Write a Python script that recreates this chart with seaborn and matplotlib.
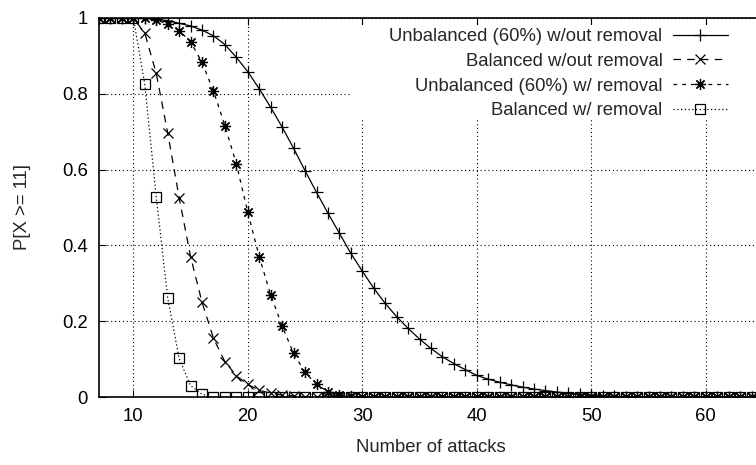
import matplotlib
matplotlib.use("Agg")
import numpy as np
import pandas as pd
import seaborn as sns
from matplotlib import pyplot
from matplotlib.patches import Rectangle

# number of attacks (x axis)
attacks = list(range(7, 65))

# one value per number of attacks (7..64)
unbal_no_rm = [1, 1, 1, 1, 0.999, 0.997, 0.993, 0.986, 0.979, 0.968,
               0.953, 0.930, 0.896, 0.858, 0.813, 0.764, 0.712, 0.656, 0.597, 0.540,
               0.485, 0.432, 0.379, 0.332, 0.287, 0.247, 0.212, 0.181, 0.153, 0.128,
               0.106, 0.088, 0.072, 0.057, 0.047, 0.039, 0.032, 0.026, 0.021, 0.017,
               0.013, 0.010, 0.008, 0.005, 0.003, 0.002, 0.001, 0.001, 0, 0,
               0, 0, 0, 0, 0, 0, 0, 0]
bal_no_rm = [1, 1, 1, 1, 0.960, 0.854, 0.697, 0.526, 0.370, 0.250,
             0.155, 0.093, 0.056, 0.033, 0.018, 0.010, 0.005, 0.003, 0.001, 0,
             0, 0, 0, 0, 0, 0, 0, 0, 0, 0,
             0, 0, 0, 0, 0, 0, 0, 0, 0, 0,
             0, 0, 0, 0, 0, 0, 0, 0, 0, 0,
             0, 0, 0, 0, 0, 0, 0, 0]
unbal_rm = [1, 1, 1, 1, 0.999, 0.995, 0.984, 0.967, 0.937, 0.883,
            0.807, 0.716, 0.615, 0.487, 0.370, 0.269, 0.187, 0.115, 0.065, 0.033,
            0.014, 0.005, 0.002, 0, 0, 0, 0, 0, 0, 0,
            0, 0, 0, 0, 0, 0, 0, 0, 0, 0,
            0, 0, 0, 0, 0, 0, 0, 0, 0, 0,
            0, 0, 0, 0, 0, 0, 0, 0]
bal_rm = [1, 1, 1, 1, 0.825, 0.528, 0.262, 0.102, 0.030, 0.007,
          0, 0, 0, 0, 0, 0, 0, 0, 0, 0,
          0, 0, 0, 0, 0, 0, 0, 0, 0, 0,
          0, 0, 0, 0, 0, 0, 0, 0, 0, 0,
          0, 0, 0, 0, 0, 0, 0, 0, 0, 0,
          0, 0, 0, 0, 0, 0, 0, 0]

labels = ["Unbalanced (60%) w/out removal", "Balanced w/out removal",
          "Unbalanced (60%) w/ removal", "Balanced w/ removal"]
series = [unbal_no_rm, bal_no_rm, unbal_rm, bal_rm]

sns.set_theme(style="ticks")
pyplot.rcParams['font.family'] = ['Liberation Sans', 'DejaVu Sans']
fontsize = 13.3

df = pd.DataFrame({"attacks": attacks * 4,
                   "p": sum(series, []),
                   "series": sum([[l] * len(attacks) for l in labels], [])})

fig = pyplot.figure(figsize=(7.56, 4.65), dpi=100)
ax = fig.add_axes([99 / 756, 68 / 465, 664 / 756, 379 / 465])

styles = {
    labels[0]: dict(linestyle="-", marker="+", markersize=8),
    labels[1]: dict(linestyle=(0, (6, 5)), marker="x", markersize=7),
    labels[2]: dict(linestyle=(0, (3, 4)), marker=(8, 2, 0), markersize=8),
    labels[3]: dict(linestyle=(0, (1, 2)), marker="s", markersize=6.5, markerfacecolor="none"),
}
for lab in labels:
    sns.lineplot(data=df[df["series"] == lab], x="attacks", y="p", ax=ax, label=lab,
                 color="black", linewidth=0.9, markeredgewidth=0.9, markeredgecolor="black",
                 zorder=3, **styles[lab])

ax.set_xlim(7, 65)
ax.set_ylim(0, 1)
ax.set_xticks(np.arange(10, 61, 10))
ax.set_yticks([0, 0.2, 0.4, 0.6, 0.8, 1])
ax.set_yticklabels(["0", "0.2", "0.4", "0.6", "0.8", "1"])
ax.tick_params(direction="in", length=5, width=0.8, top=True, right=True,
               labelsize=fontsize, colors="black", pad=8)
ax.set_axisbelow(True)
ax.grid(True, color="black", linestyle=(0, (1, 2.5)), linewidth=0.8)
for s in ax.spines.values():
    s.set_linewidth(1.2)
    s.set_color("black")

# the key box hides the grid behind it
ax.add_patch(Rectangle((0.378, 0.736), 0.63, 0.245, transform=ax.transAxes,
                       facecolor="white", edgecolor="none", zorder=1))

ax.set_xlabel("Number of attacks", fontsize=fontsize, labelpad=10)
ax.set_ylabel("P[X >= 11]", fontsize=fontsize, labelpad=22)

ax.legend(loc="upper right", bbox_to_anchor=(728 / 756, 1 - 28 / 465),
          bbox_transform=fig.transFigure, frameon=False, markerfirst=False,
          fontsize=fontsize, handlelength=3.0, handletextpad=0.55,
          labelspacing=0.42, borderaxespad=0, borderpad=0)

fig.savefig("out.png", dpi=100)
